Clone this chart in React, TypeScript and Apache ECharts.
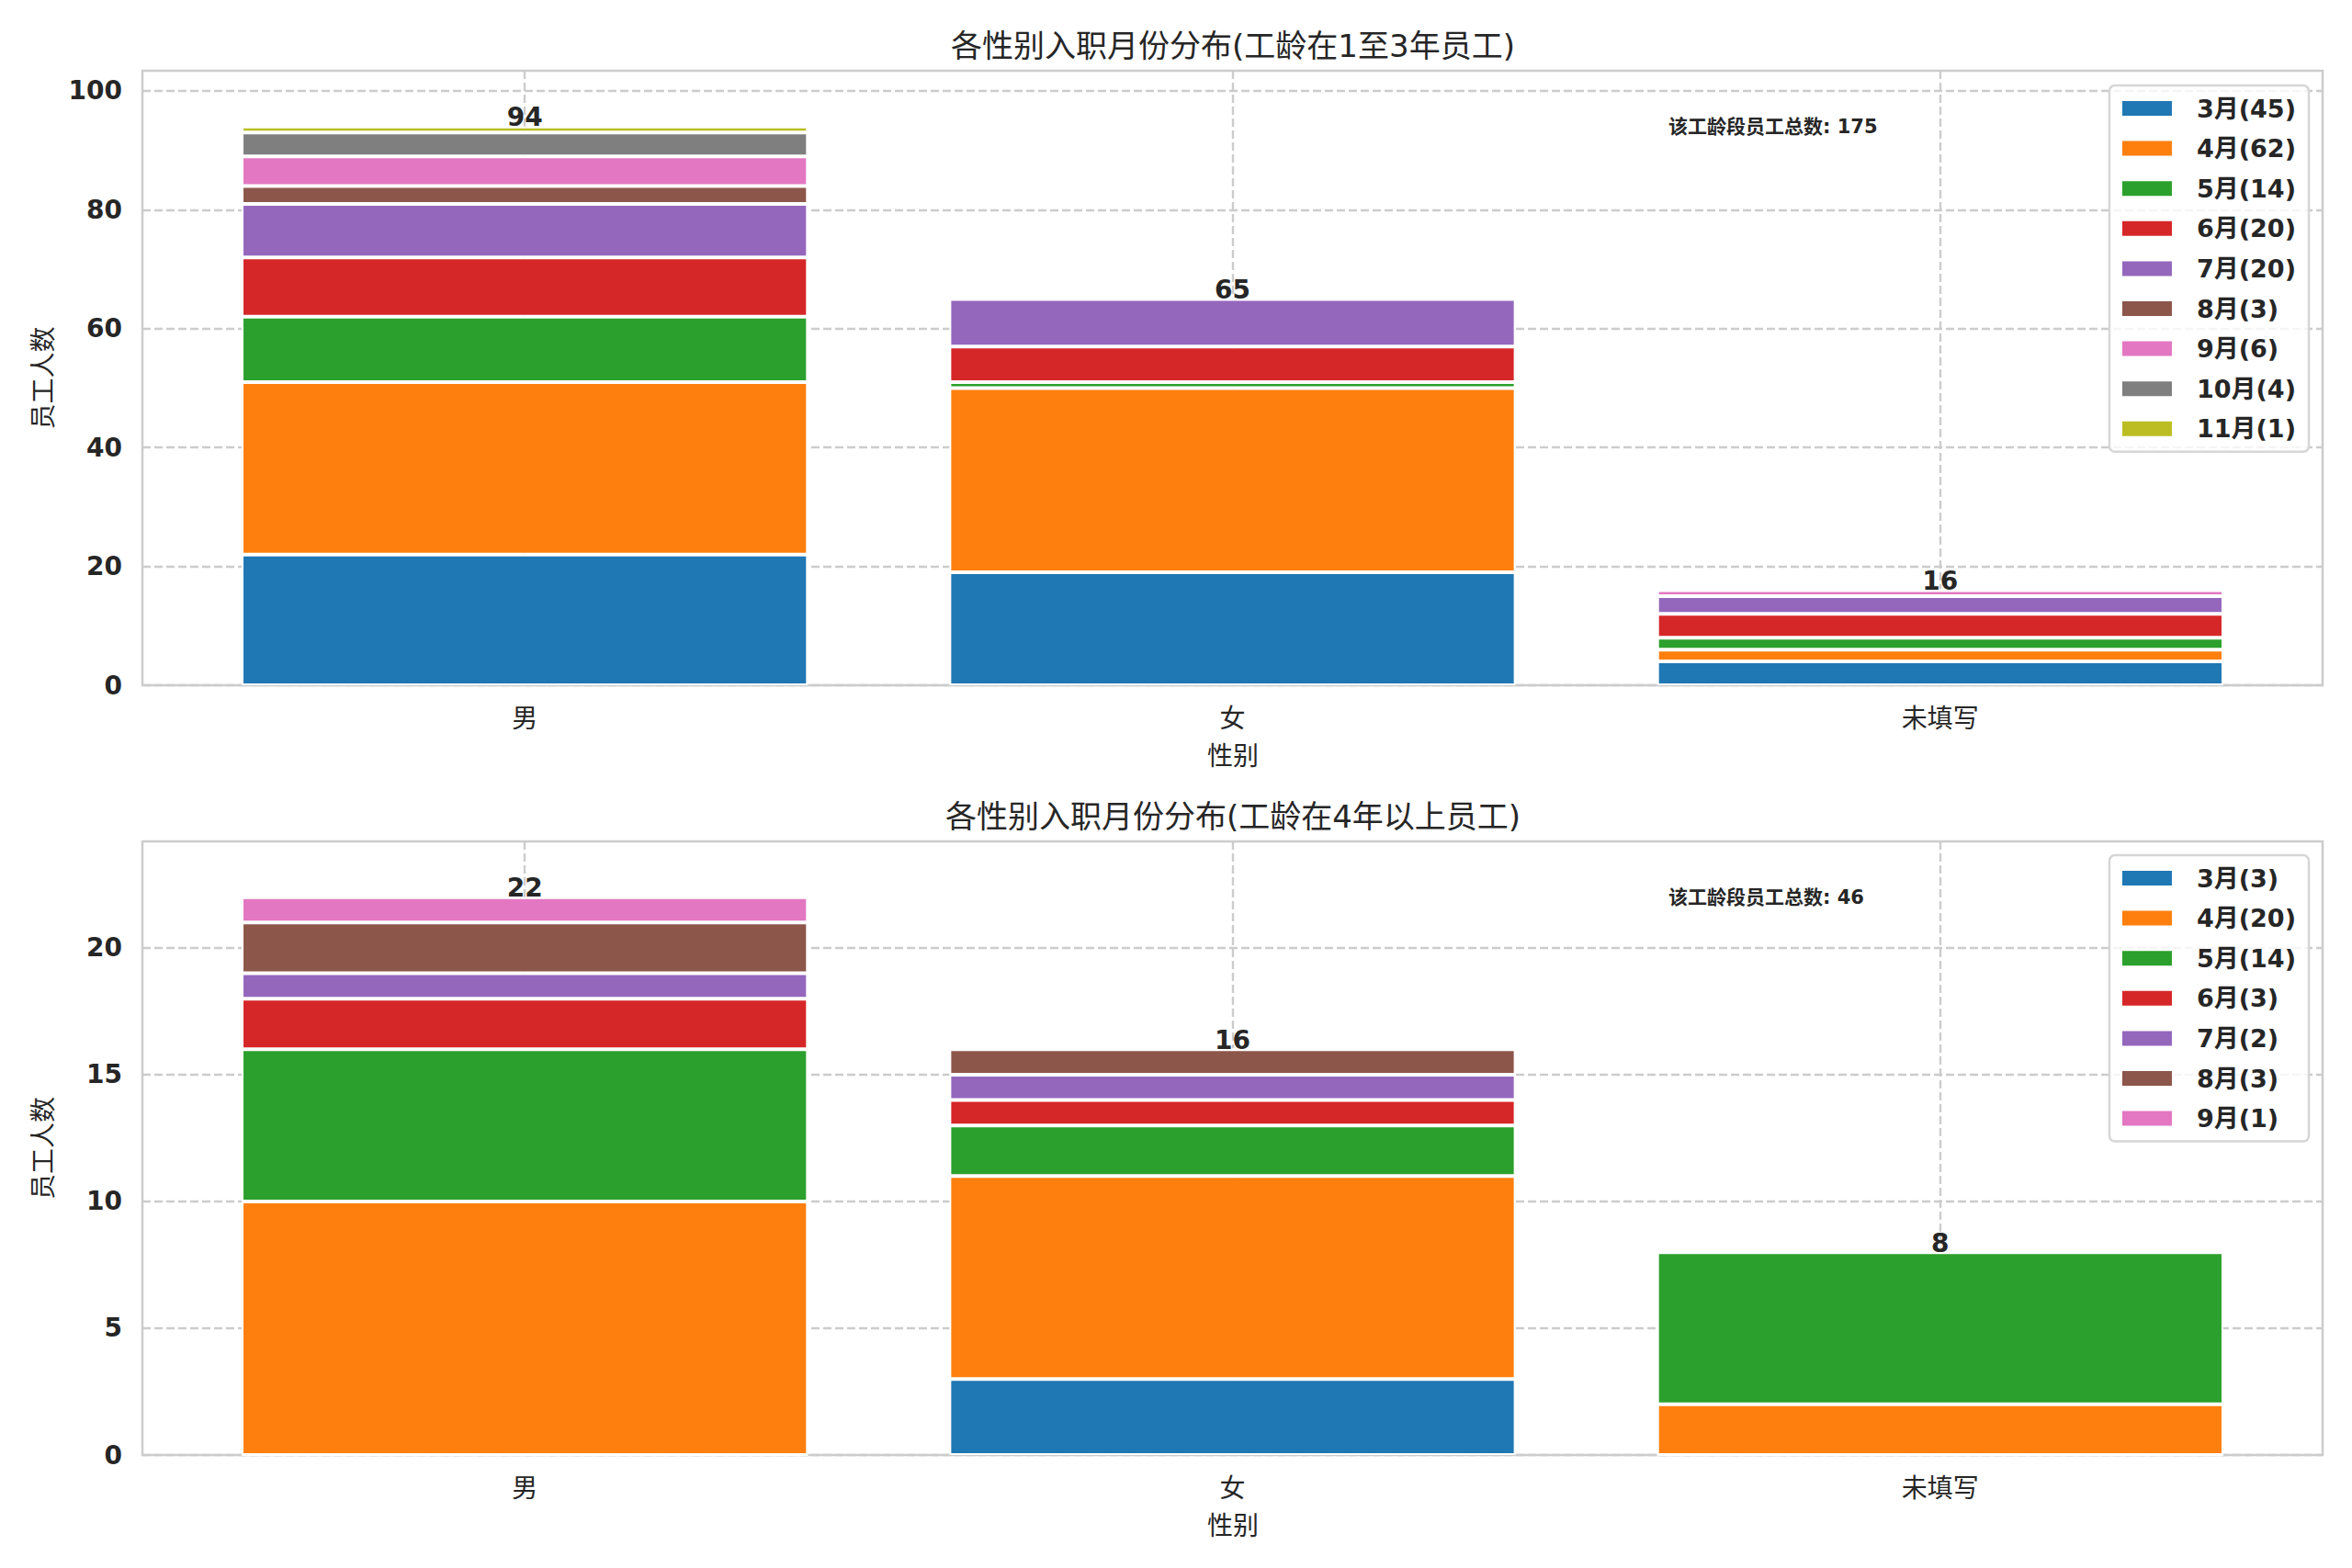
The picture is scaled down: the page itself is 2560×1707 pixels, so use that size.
import React, { useEffect, useRef } from 'react';
import * as echarts from 'echarts';

// ---------- texts ----------
const categories = ['男', '女', '未填写'];
const xAxisName = '性别';
const yAxisName = '员工人数';
const titleTop = '各性别入职月份分布(工龄在1至3年员工)';
const titleBottom = '各性别入职月份分布(工龄在4年以上员工)';
const totalText = '该工龄段员工总数';

// ---------- top panel data (per month, values for 男 / 女 / 未填写) ----------
const monthsTop = ['3月', '4月', '5月', '6月', '7月', '8月', '9月', '10月', '11月'];
const top3 = [22, 19, 4];
const top4 = [29, 31, 2];
const top5 = [11, 1, 2];
const top6 = [10, 6, 4];
const top7 = [9, 8, 3];
const top8 = [3, 0, 0];
const top9 = [5, 0, 1];
const top10 = [4, 0, 0];
const top11 = [1, 0, 0];
const topValues = [top3, top4, top5, top6, top7, top8, top9, top10, top11];
const yTicksTop = [0, 20, 40, 60, 80, 100];

// ---------- bottom panel data ----------
const monthsBottom = ['3月', '4月', '5月', '6月', '7月', '8月', '9月'];
const bottom3 = [0, 3, 0];
const bottom4 = [10, 8, 2];
const bottom5 = [6, 2, 6];
const bottom6 = [2, 1, 0];
const bottom7 = [1, 1, 0];
const bottom8 = [2, 1, 0];
const bottom9 = [1, 0, 0];
const bottomValues = [bottom3, bottom4, bottom5, bottom6, bottom7, bottom8, bottom9];
const yTicksBottom = [0, 5, 10, 15, 20];

const palette = ['#1f77b4', '#ff7f0e', '#2ca02c', '#d62728', '#9467bd', '#8c564b', '#e377c2', '#7f7f7f', '#bcbd22'];

const FONT = '"DejaVu Sans", "Noto Sans CJK SC", sans-serif';
const TEXT = '#262626';
const GRIDC = '#cccccc';

const sum = (a: number[]) => a.reduce((s, v) => s + v, 0);

function buildPanel(p: number, months: string[], values: number[][], yTicks: number[], top: number, height: number, legendTop: number, title: string) {
  const f = p * 2;
  const b = p * 2 + 1;
  const totals = categories.map((_, i) => sum(values.map((v) => v[i])));
  const yMax = Math.max(...totals) * 1.1;
  const grand = sum(totals);
  const names = months.map((m, k) => `${m}(${sum(values[k])})`);

  const grids = [
    { left: 155, top, width: 2373, height, show: true, borderColor: GRIDC, borderWidth: 2.5, backgroundColor: 'transparent' },
    { left: 186, top, width: 2311, height, show: false },
  ];
  const dashed = { color: GRIDC, width: 2.4, type: [9, 4] as any };
  const xAxes = [
    {
      gridIndex: f, type: 'value', min: -0.54, max: 2.54,
      axisLine: { show: false },
      axisTick: { show: false, customValues: categories.map((_, i) => i) },
      axisLabel: { show: false },
      splitLine: { show: true, lineStyle: dashed },
    },
    {
      gridIndex: b, type: 'category', data: categories,
      axisLine: { show: false }, axisTick: { show: false },
      axisLabel: { fontSize: 28, color: TEXT, fontFamily: FONT, margin: 22 },
      splitLine: { show: false },
    },
  ];
  const yAxes = [
    {
      gridIndex: f, type: 'value', min: 0, max: yMax,
      axisLine: { show: false },
      axisTick: { show: false, customValues: yTicks },
      axisLabel: { customValues: yTicks, fontSize: 28, fontWeight: 'bold', color: TEXT, fontFamily: FONT, margin: 22 },
      splitLine: { show: true, lineStyle: dashed },
    },
    { gridIndex: b, type: 'value', min: 0, max: yMax, show: false, splitLine: { show: false } },
  ];
  const series: any[] = values.map((vals, k) => ({
    type: 'bar',
    name: names[k],
    xAxisIndex: b,
    yAxisIndex: b,
    stack: 'stack' + p,
    barWidth: '80%',
    data: vals,
    silent: true,
    itemStyle: { color: palette[k], borderColor: '#ffffff', borderWidth: 2 },
    z: 2,
  }));
  series.push({
    type: 'scatter',
    name: 'total' + p,
    xAxisIndex: b,
    yAxisIndex: b,
    data: totals,
    symbolSize: 0.1,
    silent: true,
    z: 5,
    itemStyle: { opacity: 1, color: 'rgba(0,0,0,0)' },
    label: {
      show: true, position: 'top', distance: -4, formatter: '{c}',
      fontSize: 28, fontWeight: 'bold', color: TEXT, opacity: 1, fontFamily: FONT,
    },
  });
  const legend = {
    data: names,
    orient: 'vertical',
    right: 47,
    top: legendTop,
    icon: 'rect',
    itemWidth: 56,
    itemHeight: 18,
    itemGap: 15.6,
    padding: [11, 14, 11, 12],
    backgroundColor: 'rgba(255,255,255,0.8)',
    borderColor: '#d6d6d6',
    borderWidth: 2.5,
    borderRadius: 6,
    selectedMode: false,
    textStyle: { fontSize: 27, fontWeight: 'bold', color: TEXT, fontFamily: FONT, lineHeight: 28, padding: [0, 0, 0, 21] },
  };
  const graphics = [
    {
      type: 'text', x: 1342, y: top - 27,
      style: { text: title, fill: TEXT, font: `34px ${FONT}`, align: 'center', verticalAlign: 'middle' },
    },
    {
      type: 'text', x: 1342, y: top + height + 77,
      style: { text: xAxisName, fill: TEXT, font: `28px ${FONT}`, align: 'center', verticalAlign: 'middle' },
    },
    {
      type: 'text', x: 47, y: top + height / 2, rotation: Math.PI / 2,
      style: { text: yAxisName, fill: TEXT, font: `28px ${FONT}`, align: 'center', verticalAlign: 'middle' },
    },
    {
      type: 'text', x: 1816, y: top + 61,
      style: { text: `${totalText}: ${grand}`, fill: TEXT, font: `bold 21px ${FONT}`, align: 'left', verticalAlign: 'middle' },
    },
  ];
  return { grids, xAxes, yAxes, series, legend, graphics };
}

export default function App() {
  const ref = useRef<HTMLDivElement>(null);
  useEffect(() => {
    if (!ref.current) return;
    const chart = echarts.init(ref.current, null, { renderer: 'svg' });
    const a = buildPanel(0, monthsTop, topValues, yTicksTop, 77, 669, 93, titleTop);
    const c = buildPanel(1, monthsBottom, bottomValues, yTicksBottom, 916, 668, 931, titleBottom);
    chart.setOption({
      animation: false,
      backgroundColor: '#ffffff',
      textStyle: { fontFamily: FONT },
      grid: [...a.grids, ...c.grids],
      xAxis: [...a.xAxes, ...c.xAxes],
      yAxis: [...a.yAxes, ...c.yAxes],
      series: [...a.series, ...c.series],
      legend: [a.legend, c.legend],
      graphic: [...a.graphics, ...c.graphics],
    });
    return () => chart.dispose();
  }, []);
  return <div ref={ref} style={{ position: 'absolute', left: 0, top: 0, width: 2560, height: 1707 }} />;
}
